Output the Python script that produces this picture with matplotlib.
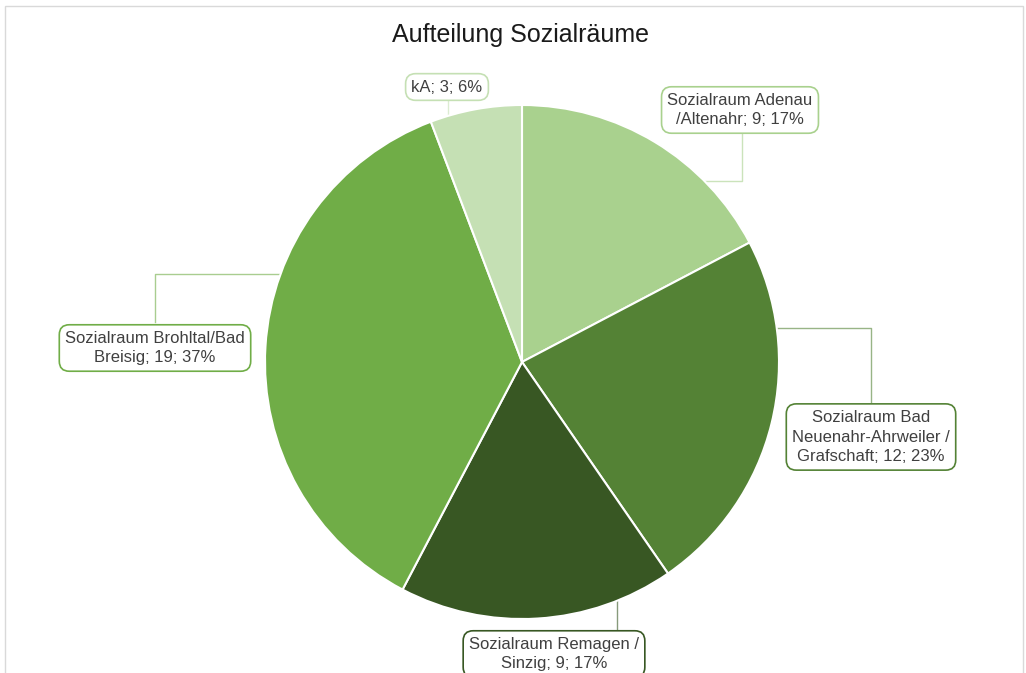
import matplotlib.pyplot as plt
import numpy as np
from matplotlib.patches import Rectangle

plt.rcParams['font.family'] = ['Liberation Sans', 'DejaVu Sans']

# Daten
labels = ['Sozialraum Adenau\n/Altenahr', 'Sozialraum Bad\nNeuenahr-Ahrweiler /\nGrafschaft',
          'Sozialraum Remagen /\nSinzig', 'Sozialraum Brohltal/Bad\nBreisig', 'kA']
values = [9, 12, 9, 19, 3]
colors = ['#A9D18E', '#548235', '#385723', '#70AD47', '#C5E0B4']

W, H = 1026, 673
fig = plt.figure(figsize=(W / 100, H / 100), dpi=100)
ax = fig.add_axes([0, 0, 1, 1])

# Rahmen
fig.patches.append(Rectangle((5 / W, -0.1), (W - 8) / W, 1 - 6 / H + 0.1,
                             transform=fig.transFigure, fill=False,
                             edgecolor='#D9D9D9', linewidth=1))

cx, cy, r = 522, H - 362, 257
ax.pie(values, colors=colors, startangle=90, counterclock=False,
       center=(cx, cy), radius=r, frame=True,
       wedgeprops=dict(edgecolor='white', linewidth=1.5))
ax.set_xlim(0, W)
ax.set_ylim(0, H)
ax.set_aspect('equal')
ax.axis('off')

ax.text(520, H - 35, 'Aufteilung Sozialräume', ha='center', va='center',
        fontsize=18, color='#1a1a1a')

total = sum(values)
# Beschriftungen: (Boxmitte, Startpunkt am Kasten, Knick)
layout = [
    ((740, 110), (742, 134), (742, 181)),
    ((871, 437), (871, 402), (871, 328)),
    ((554, 654), (617, 630), None),
    ((155, 348), (155, 322), (155, 274)),
    ((447, 87), (448, 101), None),
]

for lab, val, col, (bc, start, elbow) in zip(labels, values, colors, layout):
    pct = round(100 * val / total)
    txt = f'{lab}; {val}; {pct}%'
    ax.text(bc[0], H - bc[1], txt, ha='center', va='center', fontsize=12,
            color='#404040', linespacing=1.4,
            bbox=dict(boxstyle='round,pad=0.35,rounding_size=0.6',
                      facecolor='white', edgecolor=col, linewidth=1.2))
    sx, sy = start[0], H - start[1]
    pts = [(sx, sy)]
    if elbow is not None:
        ex, ey = elbow[0], H - elbow[1]
        pts.append((ex, ey))
        dx = np.sqrt(r ** 2 - (ey - cy) ** 2)
        px = cx + dx if ex > cx else cx - dx
        pts.append((px, ey))
    else:
        dy = np.sqrt(r ** 2 - (sx - cx) ** 2)
        py = cy + dy if sy > cy else cy - dy
        pts.append((sx, py))
    xs, ys = zip(*pts)
    ax.plot(xs, ys, color=col, alpha=0.6, linewidth=1, zorder=0.5)

fig.savefig('out.png', dpi=100)
